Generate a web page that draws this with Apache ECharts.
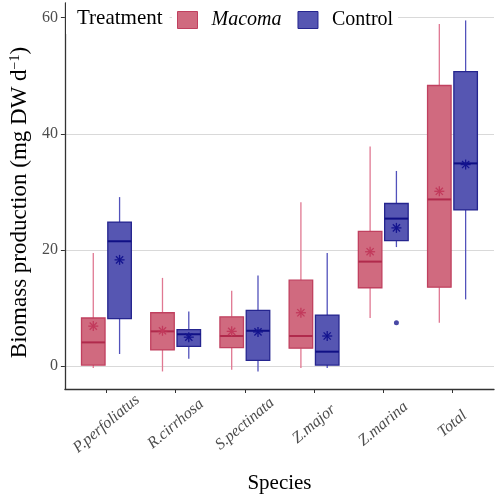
<!DOCTYPE html>
<html>
<head>
<meta charset="utf-8">
<script src="https://cdn.jsdelivr.net/npm/echarts@6/dist/echarts.min.js"></script>
<style>html,body{margin:0;padding:0;background:#fff;}#chart{width:498px;height:500px;}</style>
</head>
<body>
<div id="chart"></div>
<script>
// ---- data ----
const species = ['P.perfoliatus', 'R.cirrhosa', 'S.pectinata', 'Z.major', 'Z.marina', 'Total'];
const yTicks = [0, 20, 40, 60];
// [lower whisker, Q1, median, Q3, upper whisker]
const macomaBox = [
  [-0.3, 0.2, 4.1, 8.3, 19.5],
  [-0.9, 2.8, 6.0, 9.2, 15.2],
  [-0.6, 3.2, 5.2, 8.5, 13.0],
  [-0.3, 3.1, 5.2, 14.8, 28.2],
  [8.3, 13.5, 18.0, 23.2, 37.8],
  [7.5, 13.6, 28.7, 48.3, 58.9]
];
const macomaMean = [6.9, 6.1, 6.0, 9.2, 19.7, 30.1];
const controlBox = [
  [2.1, 8.2, 21.5, 24.8, 29.1],
  [1.3, 3.4, 5.5, 6.3, 9.4],
  [-0.9, 1.0, 6.1, 9.6, 15.6],
  [-0.3, 0.2, 2.5, 8.8, 19.5],
  [20.5, 21.6, 25.4, 28.0, 33.6],
  [11.5, 26.9, 34.9, 50.7, 59.5]
];
const controlMean = [18.3, 5.0, 5.9, 5.2, 23.8, 34.7];
// [species index, value]
const controlOutliers = [[4, 7.5]];

// ---- style ----
const DODGE = 0.19, BOXW = 0.34;
const serif = 'Liberation Serif, Times New Roman, serif';
const styles = {
  Macoma: {fill: '#d06a7f', border: '#c0405f', median: '#b02a4c', whisker: '#e07892', star: '#c23a5c'},
  Control: {fill: '#5656b2', border: '#25258f', median: '#101085', whisker: '#5252bb', star: '#14148f'}
};

function toRows(box, mean) {
  return box.map((b, i) => [i + 1].concat(b).concat([mean[i]]));
}

function makeRender(offset, st) {
  return function (params, api) {
    const x = api.value(0) + offset;
    const p = k => api.coord([x, api.value(k)]);
    const lo = p(1), q1 = p(2), med = p(3), q3 = p(4), hi = p(5), mn = p(6);
    const w = api.size([BOXW, 0])[0];
    const cx = lo[0];
    const s = 5, d = s * 0.72;
    const lineStyle = (c, lw) => ({stroke: c, lineWidth: lw});
    return {
      type: 'group',
      children: [
        {type: 'line', shape: {x1: cx, y1: lo[1], x2: cx, y2: q1[1]}, style: lineStyle(st.whisker, 1.3)},
        {type: 'line', shape: {x1: cx, y1: q3[1], x2: cx, y2: hi[1]}, style: lineStyle(st.whisker, 1.3)},
        {type: 'rect', shape: {x: cx - w / 2, y: q3[1], width: w, height: q1[1] - q3[1]},
          style: {fill: st.fill, stroke: st.border, lineWidth: 1.3}},
        {type: 'line', shape: {x1: cx - w / 2, y1: med[1], x2: cx + w / 2, y2: med[1]}, style: lineStyle(st.median, 2)},
        {type: 'line', shape: {x1: mn[0] - s, y1: mn[1], x2: mn[0] + s, y2: mn[1]}, style: lineStyle(st.star, 1.3)},
        {type: 'line', shape: {x1: mn[0], y1: mn[1] - s, x2: mn[0], y2: mn[1] + s}, style: lineStyle(st.star, 1.3)},
        {type: 'line', shape: {x1: mn[0] - d, y1: mn[1] - d, x2: mn[0] + d, y2: mn[1] + d}, style: lineStyle(st.star, 1.3)},
        {type: 'line', shape: {x1: mn[0] - d, y1: mn[1] + d, x2: mn[0] + d, y2: mn[1] - d}, style: lineStyle(st.star, 1.3)}
      ]
    };
  };
}

const chart = echarts.init(document.getElementById('chart'), null, {renderer: 'canvas'});
const catPos = species.map((_, i) => i + 1);

chart.setOption({
  animation: false,
  backgroundColor: '#fff',
  title: {
    text: 'Treatment', left: 66, top: 3, padding: [5, 7, 5, 11],
    backgroundColor: '#fff',
    textStyle: {fontFamily: serif, fontSize: 21, fontWeight: 'normal', color: '#000'}
  },
  legend: {
    left: 172, top: 5, padding: 5, itemGap: 16,
    backgroundColor: '#fff',
    icon: 'rect', itemWidth: 20, itemHeight: 17,
    data: [
      {name: 'Macoma', itemStyle: {color: styles.Macoma.fill, borderColor: styles.Macoma.border, borderWidth: 1}},
      {name: 'Control', itemStyle: {color: styles.Control.fill, borderColor: styles.Control.border, borderWidth: 1}}
    ],
    formatter: n => n === 'Macoma' ? '{i|' + n + '}' : '{n|' + n + '}',
    textStyle: {
      fontFamily: serif, fontSize: 20, color: '#000',
      rich: {
        i: {fontFamily: serif, fontSize: 20, fontStyle: 'italic', color: '#000', padding: [0, 0, 0, 9]},
        n: {fontFamily: serif, fontSize: 20, color: '#000', padding: [0, 0, 0, 9]}
      }
    }
  },
  grid: {left: 59, right: 4, top: 3, bottom: 111, containLabel: false},
  xAxis: {
    type: 'value', min: 0.4, max: 6.6,
    name: 'Species', nameLocation: 'middle', nameGap: 84,
    nameTextStyle: {fontFamily: serif, fontSize: 21, color: '#000'},
    axisLine: {show: true, onZero: false, lineStyle: {color: '#333', width: 1.3}},
    axisTick: {show: true, customValues: catPos, length: 4, lineStyle: {color: '#333'}},
    axisLabel: {
      customValues: catPos, rotate: 40, align: 'center', verticalAlign: 'middle', margin: 35,
      formatter: v => species[Math.round(v) - 1] || '',
      fontFamily: serif, fontStyle: 'italic', fontSize: 16, color: '#4d4d4d'
    },
    splitLine: {show: false}
  },
  yAxis: {
    type: 'value', min: -3.92, max: 62.5,
    name: 'Biomass production (mg DW d{sup|−1})', nameLocation: 'middle', nameGap: 32,
    nameTextStyle: {fontFamily: serif, fontSize: 23, color: '#000', padding: [0, 13, 0, 0],
      rich: {sup: {fontFamily: serif, fontSize: 14, color: '#000', verticalAlign: 'top'}}},
    axisLine: {show: true, lineStyle: {color: '#333', width: 1.3}},
    axisTick: {show: true, customValues: yTicks, length: 4, lineStyle: {color: '#333'}},
    axisLabel: {customValues: yTicks, margin: 7, fontFamily: serif, fontSize: 16, color: '#4d4d4d'},
    splitLine: {show: true, lineStyle: {color: '#d9d9d9', width: 1}}
  },
  series: [
    {
      name: 'Macoma', type: 'custom', z: 3,
      itemStyle: {color: styles.Macoma.fill},
      encode: {x: 0, y: [1, 2, 3, 4, 5, 6]},
      renderItem: makeRender(-DODGE, styles.Macoma),
      data: toRows(macomaBox, macomaMean)
    },
    {
      name: 'Control', type: 'custom', z: 3,
      itemStyle: {color: styles.Control.fill},
      encode: {x: 0, y: [1, 2, 3, 4, 5, 6]},
      renderItem: makeRender(DODGE, styles.Control),
      data: toRows(controlBox, controlMean)
    },
    {
      name: 'Control outliers', type: 'scatter', z: 4,
      symbol: 'circle', symbolSize: 5,
      itemStyle: {color: '#1c1c8f'},
      data: controlOutliers.map(o => [o[0] + 1 + DODGE, o[1]])
    }
  ]
});
</script>
</body>
</html>
